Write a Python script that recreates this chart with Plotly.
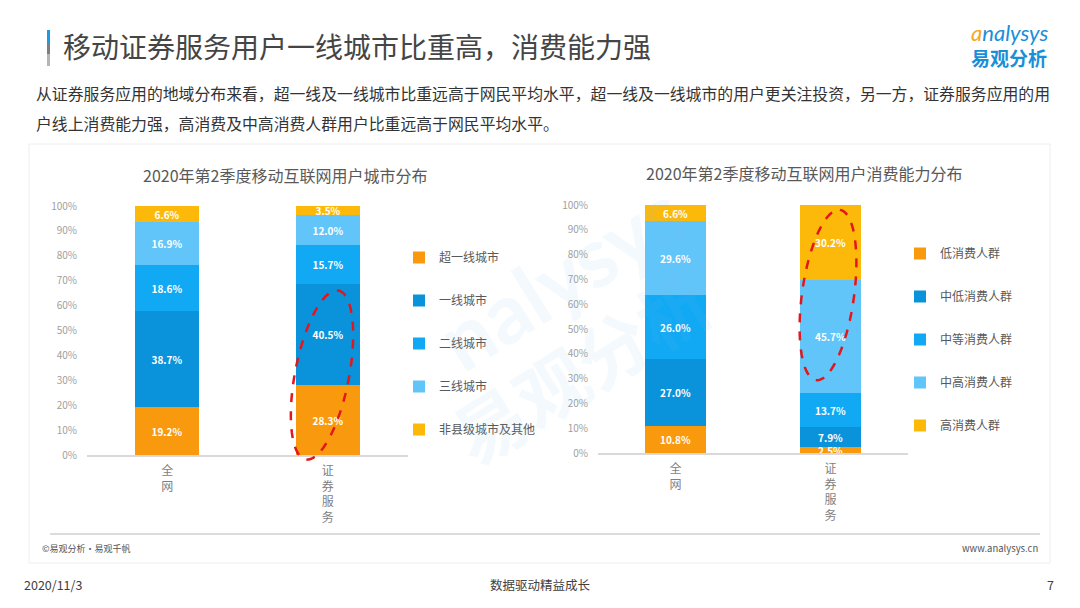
import numpy as np
import plotly.graph_objects as go

# page is 1080x608; the html body adds an 8px margin, so the figure is 1064x592
PAGE_OFF = 8
W, H = 1064, 592

# ---------------- data ----------------
categories = ["全网", "证券服务"]

city_series = ["超一线城市", "一线城市", "二线城市", "三线城市", "非县级城市及其他"]
city_all = [19.2, 38.7, 18.6, 16.9, 6.6]
city_sec = [28.3, 40.5, 15.7, 12.0, 3.5]

cons_series = ["低消费人群", "中低消费人群", "中等消费人群", "中高消费人群", "高消费人群"]
cons_all = [10.8, 27.0, 26.0, 29.6, 6.6]
cons_sec = [2.5, 7.9, 13.7, 45.7, 30.2]

y_ticks = [0, 10, 20, 30, 40, 50, 60, 70, 80, 90, 100]
y_ticktext = [f"{v}%" for v in y_ticks]

title_text = "移动证券服务用户一线城市比重高，消费能力强"
body_lines = [
    "从证券服务应用的地域分布来看，超一线及一线城市比重远高于网民平均水平，超一线及一线城市的用户更关注投资，另一方，证券服务应用的用",
    "户线上消费能力强，高消费及中高消费人群用户比重远高于网民平均水平。",
]
sub_left = "2020年第2季度移动互联网用户城市分布"
sub_right = "2020年第2季度移动互联网用户消费能力分布"

colors = ["#F99A0E", "#0A93DA", "#11A9F4", "#62C5F9", "#FDB909"]

FONT = "Noto Sans CJK SC"


def px(x):
    return (x - PAGE_OFF) / W


def py(y):
    return 1 - (y - PAGE_OFF) / H


fig = go.Figure()

ticktext = ["<br>".join(list(c)) for c in categories]

for i, name in enumerate(city_series):
    fig.add_trace(go.Bar(
        x=categories, y=[city_all[i], city_sec[i]], name=name,
        marker=dict(color=colors[i], line=dict(width=0)), width=0.4,
        text=[f"{v:.1f}%" for v in (city_all[i], city_sec[i])],
        textposition="inside", insidetextanchor="middle", constraintext="none",
        textfont=dict(color="white", size=10, family=FONT, weight="bold"),
        xaxis="x", yaxis="y", legend="legend", legendgroup=f"c{i}",
        hoverinfo="skip",
    ))

for i, name in enumerate(cons_series):
    fig.add_trace(go.Bar(
        x=categories, y=[cons_all[i], cons_sec[i]], name=name,
        marker=dict(color=colors[i], line=dict(width=0)), width=0.39,
        text=[f"{v:.1f}%" for v in (cons_all[i], cons_sec[i])],
        textposition="inside", insidetextanchor="middle", constraintext="none",
        textfont=dict(color="white", size=10, family=FONT, weight="bold"),
        xaxis="x2", yaxis="y2", legend="legend2", legendgroup=f"s{i}",
        hoverinfo="skip",
    ))

xcommon = dict(
    type="category", range=[-0.5, 1.5], showline=True, linecolor="#D9D9D9",
    linewidth=1.5, ticks="", tickmode="array", tickvals=categories, ticktext=ticktext,
    tickfont=dict(size=12, color="#7F7F7F", family=FONT), ticklabelstandoff=4,
    fixedrange=True, showgrid=False, zeroline=False, automargin=False,
)
ycommon = dict(
    range=[0, 100], tickmode="array", tickvals=y_ticks, ticktext=y_ticktext,
    showline=False, ticks="", tickfont=dict(size=10, color="#A0A0A0", family=FONT),
    ticklabelstandoff=9, fixedrange=True, showgrid=False, zeroline=False,
    automargin=False,
)

legend_common = dict(
    font=dict(size=12, color="#595959", family=FONT), bgcolor="rgba(0,0,0,0)",
    traceorder="grouped", tracegroupgap=24, itemwidth=30, xanchor="left",
    yanchor="top", itemclick=False, itemdoubleclick=False,
)

fig.update_layout(
    template="none",
    width=W, height=H, margin=dict(l=0, r=0, t=0, b=0, pad=0, autoexpand=False),
    paper_bgcolor="white", plot_bgcolor="rgba(0,0,0,0)",
    barmode="stack", bargap=0, showlegend=True,
    font=dict(family=FONT, color="#595959"),
    xaxis=dict(domain=[px(87), px(408)], anchor="y", **xcommon),
    yaxis=dict(domain=[py(455), py(206)], anchor="x", **ycommon),
    xaxis2=dict(domain=[px(598), px(908)], anchor="y2", **xcommon),
    yaxis2=dict(domain=[py(453), py(205)], anchor="x2", **ycommon),
    legend=dict(x=px(399), y=py(243), **legend_common),
    legend2=dict(x=px(900), y=py(239), **legend_common),
)

shapes = []
# card background
shapes.append(dict(type="rect", xref="paper", yref="paper", layer="below",
                   x0=px(29), x1=px(1050), y0=py(144), y1=py(563),
                   line=dict(color="#EEEEEE", width=1), fillcolor="white"))
# card footer rule
shapes.append(dict(type="line", xref="paper", yref="paper",
                   x0=px(50), x1=px(1040), y0=py(534), y1=py(534),
                   line=dict(color="#DCDCDC", width=2)))
# title accent bar
shapes.append(dict(type="rect", xref="paper", yref="paper",
                   x0=px(47), x1=px(50), y0=py(30), y1=py(43),
                   line=dict(width=0), fillcolor="#1D9BE2"))
shapes.append(dict(type="rect", xref="paper", yref="paper",
                   x0=px(47), x1=px(50), y0=py(43), y1=py(54),
                   line=dict(width=0), fillcolor="#7F7F7F"))
shapes.append(dict(type="rect", xref="paper", yref="paper",
                   x0=px(47), x1=px(50), y0=py(54), y1=py(66),
                   line=dict(width=0), fillcolor="#B5B5B5"))


def ellipse_path(cx, cy, a, b, tilt_deg, n=80):
    t = np.linspace(0, 2 * np.pi, n)
    th = np.deg2rad(tilt_deg)
    xs = cx + a * np.cos(t) * np.sin(th) + b * np.sin(t) * np.cos(th)
    ys = cy - a * np.cos(t) * np.cos(th) + b * np.sin(t) * np.sin(th)
    pts = [f"{px(x):.5f},{py(y):.5f}" for x, y in zip(xs, ys)]
    return "M" + " L".join(pts) + " Z"


shapes.append(dict(type="path", xref="paper", yref="paper",
                   path=ellipse_path(322, 375, 86, 27, 11),
                   line=dict(color="#E3161B", width=2.5, dash="dash")))
shapes.append(dict(type="path", xref="paper", yref="paper",
                   path=ellipse_path(828, 295, 86, 26, 8),
                   line=dict(color="#E3161B", width=2.5, dash="dash")))

fig.update_layout(shapes=shapes)


def A(x, y, text, size, color, xanchor="center", yanchor="middle", **kw):
    return dict(x=px(x), y=py(y), xref="paper", yref="paper", text=text,
                xanchor=xanchor, yanchor=yanchor, showarrow=False,
                font=dict(size=size, color=color, family=kw.pop("family", FONT),
                          weight=kw.pop("weight", "normal")), **kw)


ann = []
# watermark
ann.append(A(560, 275, "nalysys", 84, "rgba(120,190,235,0.09)", family="Lato",
             weight="bold", textangle=-32))
ann.append(A(580, 365, "易观分析", 72, "rgba(120,190,235,0.09)", weight="bold",
             textangle=-32))
# title
ann.append(A(61, 46, title_text, 28, "#454545", xanchor="left"))
# logo
ann.append(A(1050, 33, "<i><span style='color:#F5A623'>a</span>nalysys</i>", 22,
             "#1A8FD8", xanchor="right", family="Lato"))
ann.append(A(1049, 58, "<b>易观分析</b>", 19, "#1A8FD8", xanchor="right"))
# body
for k, line in enumerate(body_lines):
    ann.append(A(34, 93 + 30 * k, line, 15.85, "#333333", xanchor="left"))
# subtitles
ann.append(A(285, 175, sub_left, 16, "#595959"))
ann.append(A(804, 173, sub_right, 16, "#595959"))
# card footer
ann.append(A(40, 548, "©易观分析·易观千帆", 9, "#555555", xanchor="left"))
ann.append(A(1040, 548, "www.analysys.cn", 9.5, "#555555", xanchor="right"))
# page footer
ann.append(A(22, 584, "2020/11/3", 12.5, "#404040", xanchor="left"))
ann.append(A(540, 584, "数据驱动精益成长", 12.5, "#404040"))
ann.append(A(1056, 584, "7", 12.5, "#404040", xanchor="right"))

fig.update_layout(annotations=ann)

fig.write_html("out.html", config={"displayModeBar": False})
